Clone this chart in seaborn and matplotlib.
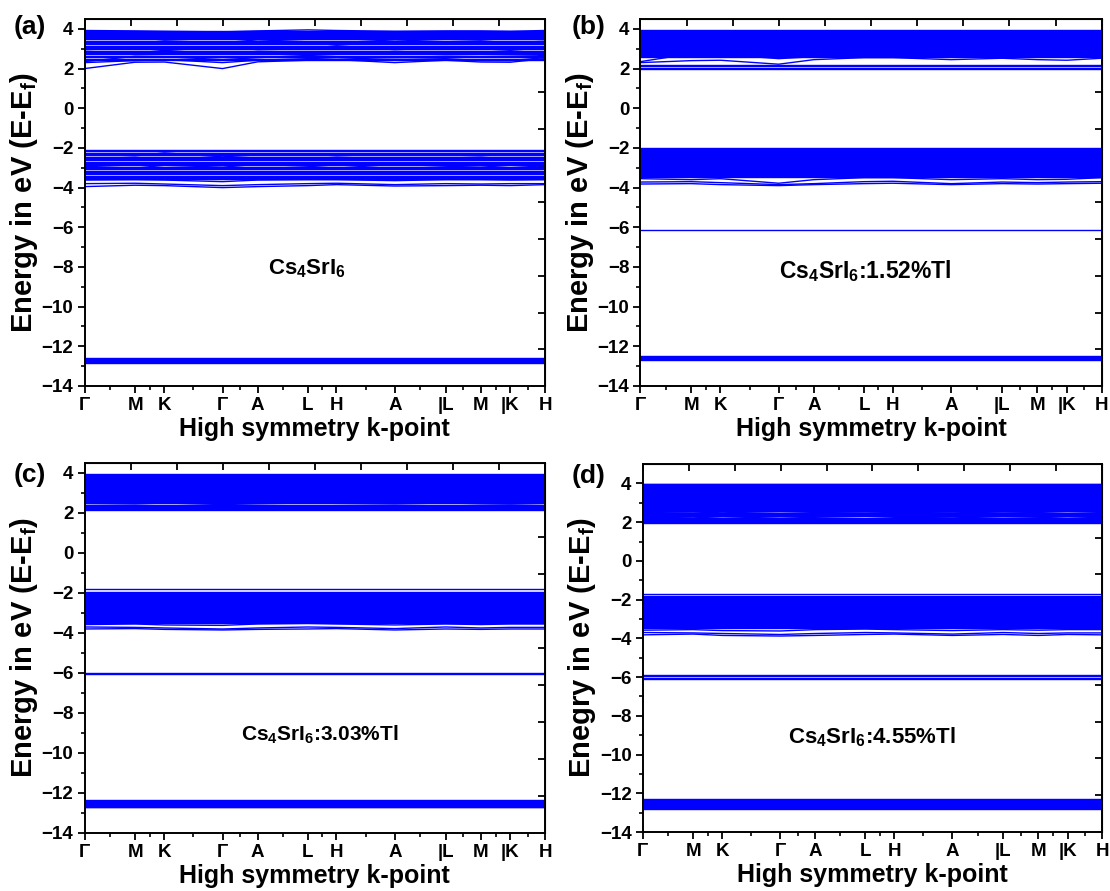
import numpy as np
import pandas as pd
import matplotlib
matplotlib.use("Agg")
import matplotlib.pyplot as plt
import seaborn as sns

sns.set_style("ticks")
plt.rcParams["font.family"] = ["Liberation Sans", "DejaVu Sans"]
plt.rcParams["font.weight"] = "bold"
plt.rcParams["axes.labelweight"] = "bold"
plt.rcParams["mathtext.fontset"] = "custom"
plt.rcParams["mathtext.rm"] = "Liberation Sans:bold"
plt.rcParams["mathtext.it"] = "Liberation Sans:bold"
plt.rcParams["mathtext.bf"] = "Liberation Sans:bold"
for key in ["text.color", "axes.labelcolor", "xtick.color", "ytick.color",
            "axes.edgecolor"]:
    plt.rcParams[key] = "black"

# ---- k-path (cumulative distance, normalised) ----
K_POS = [0.0, 0.1097, 0.1735, 0.2996, 0.3759, 0.4848, 0.5471,
         0.6739, 0.7844, 0.8607, 0.9245, 1.0]
K_LABELS = ["Γ", "M", "K", "Γ", "A", "L", "H", "A", "|L", "M", "|K", "H"]

# ---- (a) Cs4SrI6 ----
A_FLAT = [2.42, 2.5, 2.56, 2.63, 2.72, 2.78, 2.84, 2.9, 2.97, 3.03, 3.08,
          3.15, 3.22, 3.28, 3.35, 3.41, 3.47, 3.53, 3.58, 3.64, 3.69, 3.74,
          3.79, 3.84, 3.88,
          -2.12, -2.18, -2.25, -2.31, -2.38, -2.44, -2.5, -2.57, -2.63,
          -2.69, -2.76, -2.82, -2.88, -2.95, -3.01, -3.07, -3.14, -3.2,
          -3.26, -3.33, -3.39, -3.45, -3.51, -3.55,
          -12.6, -12.64, -12.68, -12.72, -12.76, -12.8, -12.84]
A_DISP = [
    [2.0, 2.32, 2.33, 2.0, 2.34, 2.42, 2.45, 2.3, 2.42, 2.33, 2.32, 2.5],
    [2.3, 2.4, 2.45, 2.3, 2.42, 2.5, 2.55, 2.45, 2.5, 2.4, 2.4, 2.55],
    [2.35, 2.62, 2.6, 2.45, 2.55, 2.66, 2.6, 2.55, 2.62, 2.6, 2.62, 2.65],
    [2.95, 3.05, 2.9, 3.1, 2.95, 3.0, 3.15, 2.95, 3.05, 3.0, 2.92, 3.05],
    [3.35, 3.25, 3.4, 3.3, 3.45, 3.35, 3.3, 3.45, 3.35, 3.4, 3.3, 3.38],
    [3.92, 3.9, 3.88, 3.85, 3.9, 3.95, 3.92, 3.88, 3.9, 3.9, 3.88, 3.92],
    [-2.3, -2.4, -2.25, -2.45, -2.35, -2.3, -2.4, -2.3, -2.35, -2.4, -2.3, -2.35],
    [-2.95, -2.85, -3.0, -2.9, -3.05, -2.95, -2.85, -3.05, -2.95, -2.9, -3.0, -2.9],
    [-3.62, -3.6, -3.62, -3.7, -3.62, -3.6, -3.6, -3.65, -3.6, -3.6, -3.62, -3.6],
    [-3.8, -3.78, -3.82, -3.9, -3.85, -3.8, -3.78, -3.85, -3.8, -3.82, -3.8, -3.8],
    [-3.95, -3.88, -3.9, -4.0, -3.95, -3.9, -3.85, -3.92, -3.9, -3.88, -3.9, -3.85],
]

# ---- (b) Cs4SrI6:1.52%Tl ----
B_FLAT = [1.98, 2.04, 2.12, 2.19,
          2.56, 2.61, 2.66, 2.71, 2.75, 2.8, 2.85, 2.9, 2.95, 3.0, 3.05,
          3.1, 3.15, 3.2, 3.25, 3.3, 3.35, 3.4, 3.45, 3.5, 3.55, 3.6, 3.65,
          3.7, 3.75, 3.8, 3.85, 3.9, 3.94,
          -2.02, -2.07, -2.12, -2.17, -2.22, -2.27, -2.32, -2.37, -2.42,
          -2.47, -2.52, -2.57, -2.62, -2.67, -2.72, -2.77, -2.82, -2.87,
          -2.92, -2.97, -3.02, -3.07, -3.12, -3.17, -3.22, -3.27, -3.32,
          -3.37, -3.42, -3.46,
          -6.12,
          -12.5, -12.54, -12.58, -12.62, -12.66, -12.7]
B_DISP = [
    [2.3, 2.4, 2.42, 2.22, 2.45, 2.55, 2.55, 2.45, 2.52, 2.45, 2.42, 2.52],
    [2.35, 2.75, 2.72, 2.5, 2.6, 2.7, 2.65, 2.62, 2.7, 2.72, 2.75, 2.6],
    [-3.55, -3.6, -3.55, -3.78, -3.6, -3.5, -3.5, -3.6, -3.55, -3.6, -3.58, -3.5],
    [-3.72, -3.7, -3.75, -3.85, -3.8, -3.7, -3.68, -3.8, -3.72, -3.75, -3.72, -3.7],
    [-3.82, -3.8, -3.85, -3.9, -3.85, -3.8, -3.78, -3.85, -3.8, -3.82, -3.8, -3.78],
]

# ---- (c) Cs4SrI6:3.03%Tl ----
C_FLAT = [2.16, 2.2, 2.25, 2.3, 2.35, 2.4,
          2.52, 2.57, 2.62, 2.67, 2.72, 2.77, 2.82, 2.87, 2.92, 2.97, 3.02,
          3.07, 3.12, 3.17, 3.22, 3.27, 3.32, 3.37, 3.42, 3.47, 3.52, 3.57,
          3.62, 3.67, 3.72, 3.77, 3.82, 3.87, 3.92, 3.96,
          -1.82, -1.95, -2.0, -2.05, -2.1, -2.15, -2.2, -2.25, -2.3, -2.35,
          -2.4, -2.45, -2.5, -2.55, -2.6, -2.65, -2.7, -2.75, -2.8, -2.85,
          -2.9, -2.95, -3.0, -3.05, -3.1, -3.15, -3.2, -3.25, -3.3, -3.35,
          -3.4, -3.45, -3.5,
          -6.0, -6.06,
          -12.36, -12.4, -12.44, -12.48, -12.52, -12.56, -12.6, -12.64,
          -12.68, -12.72]
C_DISP = [
    [2.48, 2.45, 2.5, 2.42, 2.46, 2.5, 2.48, 2.45, 2.5, 2.46, 2.44, 2.48],
    [-3.58, -3.55, -3.6, -3.62, -3.55, -3.52, -3.55, -3.6, -3.55, -3.58, -3.55, -3.55],
    [-3.7, -3.72, -3.75, -3.8, -3.75, -3.7, -3.72, -3.78, -3.7, -3.75, -3.72, -3.72],
    [-3.8, -3.78, -3.82, -3.85, -3.82, -3.8, -3.78, -3.85, -3.8, -3.82, -3.8, -3.8],
]

# ---- (d) Cs4SrI6:4.55%Tl ----
D_FLAT = [1.96, 2.0, 2.05, 2.1, 2.15, 2.2, 2.3, 2.35, 2.4, 2.45,
          2.55, 2.6, 2.65, 2.7, 2.75, 2.8, 2.85, 2.9, 2.95, 3.0, 3.05, 3.1,
          3.15, 3.2, 3.25, 3.3, 3.35, 3.4, 3.45, 3.5, 3.55, 3.6, 3.65, 3.7,
          3.75, 3.8, 3.85, 3.9, 3.95, 3.99,
          -1.72, -1.8, -1.88, -1.93, -1.98, -2.03, -2.08, -2.13, -2.18,
          -2.23, -2.28, -2.33, -2.38, -2.43, -2.48, -2.53, -2.58, -2.63,
          -2.68, -2.73, -2.78, -2.83, -2.88, -2.93, -2.98, -3.03, -3.08,
          -3.13, -3.18, -3.23, -3.28, -3.33, -3.38, -3.43, -3.48,
          -5.9, -5.97, -6.04, -6.11,
          -12.3, -12.34, -12.38, -12.42, -12.46, -12.5, -12.54, -12.58,
          -12.62, -12.66, -12.7, -12.75, -12.8]
D_DISP = [
    [2.25, 2.22, 2.28, 2.2, 2.25, 2.3, 2.25, 2.22, 2.28, 2.25, 2.2, 2.25],
    [2.5, 2.52, 2.48, 2.55, 2.5, 2.52, 2.5, 2.48, 2.52, 2.5, 2.55, 2.5],
    [-3.58, -3.55, -3.6, -3.62, -3.55, -3.52, -3.55, -3.6, -3.55, -3.58, -3.55, -3.55],
    [-3.7, -3.72, -3.75, -3.8, -3.75, -3.7, -3.72, -3.78, -3.7, -3.75, -3.72, -3.72],
    [-3.82, -3.78, -3.85, -3.88, -3.85, -3.8, -3.78, -3.85, -3.8, -3.85, -3.8, -3.82],
]

PANELS = [
    ("(a)", A_FLAT, A_DISP, "Cs$_4$SrI$_6$", (0.483, -8.1), 16, 4.5,
     "Energy in eV (E-E$_f$)"),
    ("(b)", B_FLAT, B_DISP, "Cs$_4$SrI$_6$:1.52%Tl", (0.488, -8.2), 16.5,
     4.5, "Energy in eV (E-E$_f$)"),
    ("(c)", C_FLAT, C_DISP, "Cs$_4$SrI$_6$:3.03%Tl", (0.51, -9.1), 15,
     4.5, "Energy in eV (E-E$_f$)"),
    ("(d)", D_FLAT, D_DISP, "Cs$_4$SrI$_6$:4.55%Tl", (0.498, -9.1), 16,
     5.0, "Enegry in eV (E-E$_f$)"),
]

# axes rectangles in figure fractions: left, bottom, width, height
RECTS = [
    (0.0762, 0.5668, 0.4148, 0.4119),
    (0.5770, 0.5668, 0.4155, 0.4119),
    (0.0762, 0.0651, 0.4148, 0.4153),
    (0.5790, 0.0662, 0.4140, 0.4130),
]
LETTER_POS = [(0.027, 0.970), (0.530, 0.970), (0.027, 0.467), (0.530, 0.466)]

BLUE = "#0000ff"


def band_table(flat, disp):
    rows = []
    for i, e in enumerate(flat):
        rows.append((K_POS[0], e, i))
        rows.append((K_POS[-1], e, i))
    n = len(flat)
    for j, vals in enumerate(disp):
        for k, v in zip(K_POS, vals):
            rows.append((k, v, n + j))
    return pd.DataFrame(rows, columns=["k", "E", "band"])


fig = plt.figure(figsize=(11.1, 8.91), dpi=100)

for (letter, flat, disp, label, lpos, lsize, ytop, ylab), rect, lp in zip(
        PANELS, RECTS, LETTER_POS):
    ax = fig.add_axes(rect)
    df = band_table(flat, disp)
    sns.lineplot(data=df, x="k", y="E", units="band", estimator=None,
                 sort=False, color=BLUE, lw=1.0, ax=ax, legend=False)
    ax.set_xlim(0, 1)
    ax.set_ylim(-14, ytop)
    ax.set_yticks(np.arange(-14, 5, 2))
    ax.set_yticks(np.arange(-13, 5, 2), minor=True)
    ax.set_xticks(K_POS)
    ax.set_xticklabels(K_LABELS)
    mids = [(a + b) / 2 for a, b in zip(K_POS[:-1], K_POS[1:])]
    ax.set_xticks(mids, minor=True)
    ax.tick_params(axis="both", which="major", direction="out", length=5,
                   width=1.3, labelsize=13.5, pad=3)
    ax.tick_params(axis="both", which="minor", direction="out", length=3,
                   width=1.2)
    for t in ax.get_xticklabels() + ax.get_yticklabels():
        t.set_fontweight("bold")
    for sp in ax.spines.values():
        sp.set_linewidth(1.4)
        sp.set_visible(True)

    # plain tick marks on the opposite sides
    top = ax.secondary_xaxis("top")
    top.set_xticks(np.linspace(0, 1, 11))
    top.tick_params(direction="in", length=5, width=1.3, labeltop=False)
    span = ytop + 14
    right = ax.secondary_yaxis(
        "right", functions=(lambda y, s=span: (y + 14) / s,
                            lambda f, s=span: f * s - 14))
    right.set_yticks(np.linspace(0.1, 0.9, 9))
    right.tick_params(direction="in", length=5, width=1.3, labelright=False)

    ax.set_xlabel("High symmetry k-point", fontsize=18, fontweight="bold",
                  labelpad=2)
    ax.set_ylabel(ylab, fontsize=21, fontweight="bold", labelpad=1)
    ax.text(lpos[0], lpos[1], label, fontsize=lsize, fontweight="bold",
            ha="center", va="center")
    fig.text(lp[0], lp[1], letter, fontsize=19, fontweight="bold",
             ha="center", va="center")

fig.savefig("out.png", dpi=100)
